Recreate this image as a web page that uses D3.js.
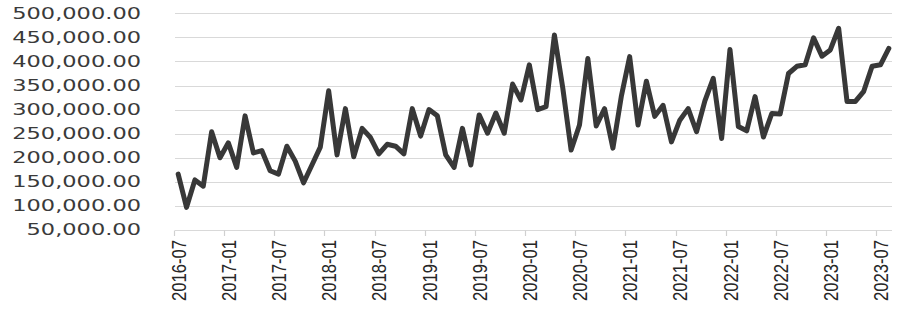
<!DOCTYPE html>
<html>
<head>
<meta charset="utf-8">
<script src="https://cdn.jsdelivr.net/npm/d3@7"></script>
<style>
  body { margin: 0; background: #fff; }
  svg { display: block; }
</style>
</head>
<body>
<script>
// monthly categories, 2016-07 .. 2023-08
const months = [
  '2016-07','2016-08','2016-09','2016-10','2016-11','2016-12',
  '2017-01','2017-02','2017-03','2017-04','2017-05','2017-06','2017-07','2017-08','2017-09','2017-10','2017-11','2017-12',
  '2018-01','2018-02','2018-03','2018-04','2018-05','2018-06','2018-07','2018-08','2018-09','2018-10','2018-11','2018-12',
  '2019-01','2019-02','2019-03','2019-04','2019-05','2019-06','2019-07','2019-08','2019-09','2019-10','2019-11','2019-12',
  '2020-01','2020-02','2020-03','2020-04','2020-05','2020-06','2020-07','2020-08','2020-09','2020-10','2020-11','2020-12',
  '2021-01','2021-02','2021-03','2021-04','2021-05','2021-06','2021-07','2021-08','2021-09','2021-10','2021-11','2021-12',
  '2022-01','2022-02','2022-03','2022-04','2022-05','2022-06','2022-07','2022-08','2022-09','2022-10','2022-11','2022-12',
  '2023-01','2023-02','2023-03','2023-04','2023-05','2023-06','2023-07','2023-08'
]

const values = [
  166000, 97000, 154000, 141000, 254000, 200000,
  231000, 180000, 287000, 210000, 215000, 173000, 166000, 224000, 193000, 148000, 185000, 222000,
  339000, 206000, 302000, 202000, 261000, 242000, 208000, 228000, 224000, 208000, 302000, 245000,
  300000, 287000, 206000, 180000, 261000, 185000, 289000, 251000, 293000, 251000, 353000, 320000,
  393000, 300000, 306000, 455000, 345000, 216000, 268000, 406000, 266000, 302000, 220000, 327000,
  410000, 268000, 359000, 286000, 309000, 233000, 278000, 302000, 254000, 318000, 365000, 240000,
  425000, 265000, 256000, 327000, 243000, 292000, 291000, 375000, 390000, 393000, 449000, 411000,
  424000, 469000, 317000, 317000, 338000, 390000, 393000, 427000
]

const yTicks = [50000, 100000, 150000, 200000, 250000, 300000, 350000, 400000, 450000, 500000]

const xTickLabels = [
  '2016-07','2017-01','2017-07','2018-01','2018-07','2019-01','2019-07','2020-01',
  '2020-07','2021-01','2021-07','2022-01','2022-07','2023-01','2023-07'
]

const width = 900
const height = 310
const plot = { left: 174, right: 893, top: 13.3, bottom: 230 }

const x = d3.scaleBand()
  .domain(months)
  .range([plot.left, plot.right])

const y = d3.scaleLinear()
  .domain([50000, 500000])
  .range([plot.bottom, plot.top])

const fmt = d3.format(',.2f')
// source image is stretched horizontally, text is widened to match
const stretch = 1.5

const svg = d3.select('body').append('svg')
  .attr('width', width)
  .attr('height', height)

// gridlines (the 50,000 line doubles as the axis line)
svg.append('g')
    .attr('class', 'grid')
  .selectAll('line')
  .data(yTicks)
  .enter().append('line')
    .attr('x1', plot.left + 1)
    .attr('x2', plot.right - 1)
    .attr('y1', d => Math.round(y(d)) + 0.5)
    .attr('y2', d => Math.round(y(d)) + 0.5)
    .attr('stroke', '#d9d9d9')
    .attr('stroke-width', 1.2)

// tick marks sit on the category boundary
svg.append('g')
    .attr('class', 'ticks')
  .selectAll('line')
  .data(xTickLabels)
  .enter().append('line')
    .attr('x1', d => Math.round(x(d)) + 0.5)
    .attr('x2', d => Math.round(x(d)) + 0.5)
    .attr('y1', Math.round(plot.bottom) + 0.5)
    .attr('y2', Math.round(plot.bottom) + 6)
    .attr('stroke', '#d0d0d0')
    .attr('stroke-width', 1.2)

// y labels
svg.append('g')
    .attr('class', 'axis axis--y')
  .selectAll('text')
  .data(yTicks)
  .enter().append('text')
    .attr('transform', d => `translate(141, ${y(d)}) scale(${stretch}, 1)`)
    .attr('dy', '0.36em')
    .attr('text-anchor', 'end')
    .attr('font-family', '"DejaVu Sans", Verdana, sans-serif')
    .attr('font-size', 15)
    .attr('fill', '#3a3a3a')
    .text(d => fmt(d))

// x labels, rotated
svg.append('g')
    .attr('class', 'axis axis--x')
  .selectAll('text')
  .data(xTickLabels)
  .enter().append('text')
    .attr('transform', d => `translate(${x(d) + x.bandwidth() / 2}, 240) scale(${stretch}, 1) rotate(-90)`)
    .attr('dy', '0.36em')
    .attr('text-anchor', 'end')
    .attr('font-family', '"Liberation Sans", Arial, sans-serif')
    .attr('font-size', 14)
    .attr('textLength', 61)
    .attr('lengthAdjust', 'spacingAndGlyphs')
    .attr('fill', '#262626')
    .text(d => d)

const line = d3.line()
  .x((d, i) => x(months[i]) + x.bandwidth() / 2)
  .y(d => y(d))

svg.append('path')
    .datum(values)
    .attr('fill', 'none')
    .attr('stroke', '#383838')
    .attr('stroke-width', 5)
    .attr('stroke-linejoin', 'round')
    .attr('stroke-linecap', 'round')
    .attr('d', line)
</script>
</body>
</html>
